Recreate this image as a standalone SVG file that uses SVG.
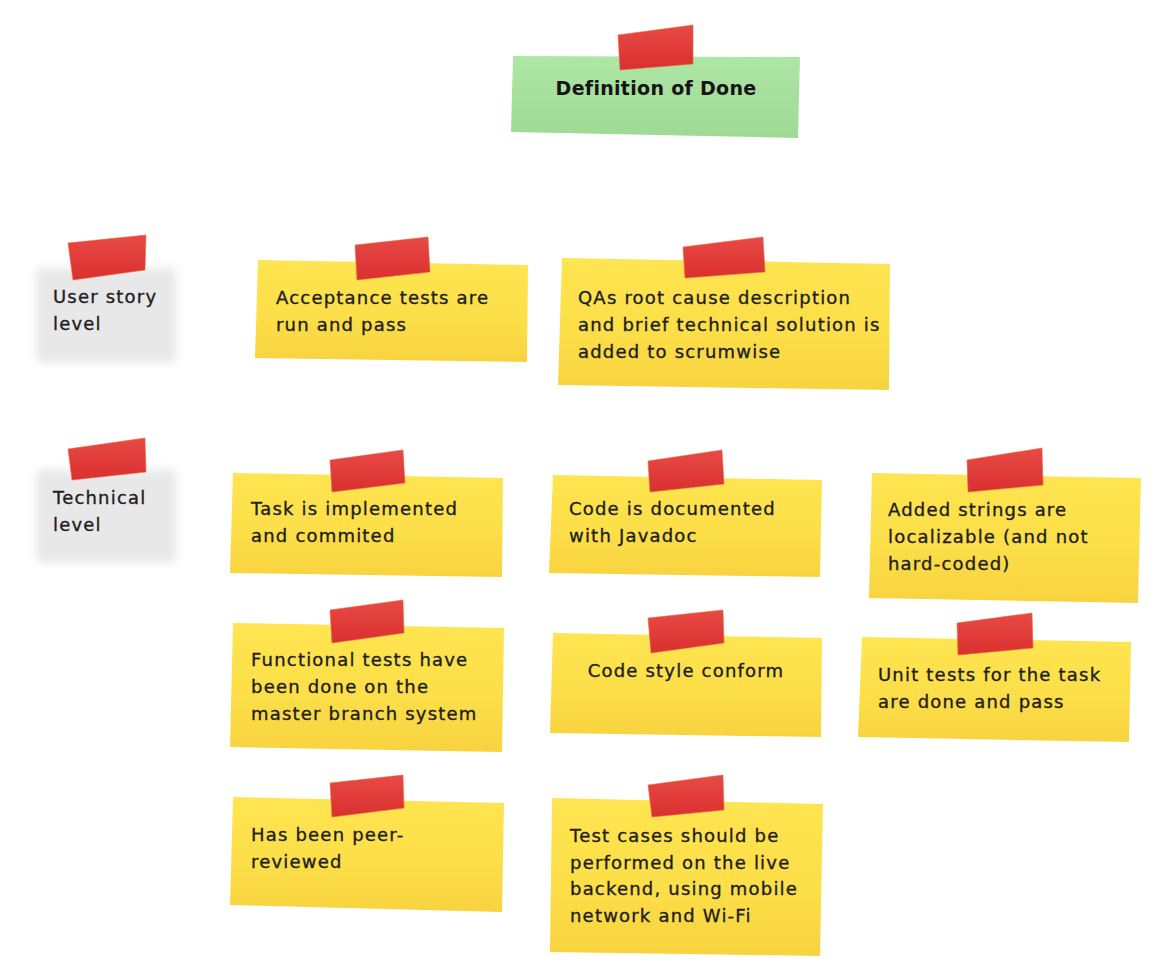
<svg xmlns="http://www.w3.org/2000/svg" width="1159" height="971" viewBox="0 0 1159 971">
  <defs>
    <linearGradient id="yellowPaper" x1="0" y1="0" x2="0" y2="1">
      <stop offset="0" stop-color="#FFE552"/>
      <stop offset="0.55" stop-color="#FCDF48"/>
      <stop offset="1" stop-color="#F8D340"/>
    </linearGradient>
    <linearGradient id="greenPaper" x1="0" y1="0" x2="0" y2="1">
      <stop offset="0" stop-color="#AEE6A5"/>
      <stop offset="1" stop-color="#9FDA95"/>
    </linearGradient>
    <linearGradient id="redTape" x1="0" y1="0" x2="0" y2="1">
      <stop offset="0" stop-color="#E84A46"/>
      <stop offset="1" stop-color="#D9302F"/>
    </linearGradient>
    <filter id="soft" x="-20%" y="-20%" width="140%" height="140%">
      <feGaussianBlur stdDeviation="5"/>
    </filter>
    <filter id="edge" x="-5%" y="-5%" width="110%" height="110%">
      <feGaussianBlur stdDeviation="0.6"/>
    </filter>
  </defs>
  <style>
    .note { fill: url(#yellowPaper); filter: url(#edge); }
    .title { fill: url(#greenPaper); filter: url(#edge); }
    .label-bg { fill: #E8E8E8; filter: url(#soft); }
    .tape { fill: url(#redTape); stroke: #E96A3A; stroke-width: 0.6; }
    .txt { font-family: "DejaVu Sans", "Liberation Sans", sans-serif; font-size: 18px; letter-spacing: 1.2px; fill: #1E1E24; stroke: #1E1E24; stroke-width: 0.35; }
    .head { font-family: "DejaVu Sans", "Liberation Sans", sans-serif; font-size: 19px; font-weight: bold; letter-spacing: 0.3px; fill: #151515; }
  </style>

  <rect width="1159" height="971" fill="#FFFFFF"/>

  <!-- heading -->
  <g id="definition-of-done">
    <polygon class="title" points="513,56 800,57 798,138 511,132"/>
    <polygon class="tape" points="618,35 693,25 693,64 620,70"/>
    <text class="head" x="656" y="95" text-anchor="middle">Definition of Done</text>
  </g>

  <!-- row labels -->
  <g id="user-story-level">
    <rect class="label-bg" x="36" y="268" width="140" height="94"/>
    <polygon class="tape" points="68,243 146,235 145,270 73,280"/>
    <text class="txt" x="53" y="303">User story</text>
    <text class="txt" x="53" y="330">level</text>
  </g>

  <g id="technical-level">
    <rect class="label-bg" x="36" y="470" width="140" height="92"/>
    <polygon class="tape" points="68,449 145,438 146,472 72,480"/>
    <text class="txt" x="53" y="504">Technical</text>
    <text class="txt" x="53" y="531">level</text>
  </g>

  <!-- user story level notes -->
  <g id="acceptance-tests">
    <polygon class="note" points="258,260 528,265 527,362 255,358"/>
    <polygon class="tape" points="355,245 428,237 430,272 357,280"/>
    <text class="txt" x="276" y="304">Acceptance tests are</text>
    <text class="txt" x="276" y="331">run and pass</text>
  </g>

  <g id="qa-root-cause">
    <polygon class="note" points="562,258 890,264 889,390 558,385"/>
    <polygon class="tape" points="683,247 763,237 765,272 685,278"/>
    <text class="txt" x="578" y="304">QAs root cause description</text>
    <text class="txt" x="578" y="331">and brief technical solution is</text>
    <text class="txt" x="578" y="358">added to scrumwise</text>
  </g>

  <!-- technical level notes -->
  <g id="task-implemented">
    <polygon class="note" points="233,473 503,478 502,577 230,573"/>
    <polygon class="tape" points="330,460 403,450 405,483 332,492"/>
    <text class="txt" x="251" y="515">Task is implemented</text>
    <text class="txt" x="251" y="542">and commited</text>
  </g>

  <g id="code-documented">
    <polygon class="note" points="553,475 822,480 820,577 549,573"/>
    <polygon class="tape" points="648,461 722,450 724,484 650,492"/>
    <text class="txt" x="569" y="515">Code is documented</text>
    <text class="txt" x="569" y="542">with Javadoc</text>
  </g>

  <g id="strings-localizable">
    <polygon class="note" points="872,473 1141,478 1138,603 869,598"/>
    <polygon class="tape" points="967,460 1042,448 1043,485 968,492"/>
    <text class="txt" x="888" y="516">Added strings are</text>
    <text class="txt" x="888" y="543">localizable (and not</text>
    <text class="txt" x="888" y="570">hard-coded)</text>
  </g>

  <g id="functional-tests">
    <polygon class="note" points="233,623 504,628 502,752 230,747"/>
    <polygon class="tape" points="330,610 403,600 404,633 332,643"/>
    <text class="txt" x="251" y="666">Functional tests have</text>
    <text class="txt" x="251" y="693">been done on the</text>
    <text class="txt" x="251" y="720">master branch system</text>
  </g>

  <g id="code-style">
    <polygon class="note" points="553,633 822,638 821,737 550,733"/>
    <polygon class="tape" points="648,618 723,610 724,643 651,653"/>
    <text class="txt" x="686" y="677" text-anchor="middle">Code style conform</text>
  </g>

  <g id="unit-tests">
    <polygon class="note" points="862,637 1131,642 1129,742 858,737"/>
    <polygon class="tape" points="957,623 1032,613 1033,648 958,655"/>
    <text class="txt" x="878" y="681">Unit tests for the task</text>
    <text class="txt" x="878" y="708">are done and pass</text>
  </g>

  <g id="peer-reviewed">
    <polygon class="note" points="233,797 504,803 502,912 230,905"/>
    <polygon class="tape" points="330,783 403,775 404,808 332,817"/>
    <text class="txt" x="251" y="841">Has been peer-</text>
    <text class="txt" x="251" y="868">reviewed</text>
  </g>

  <g id="test-cases-live">
    <polygon class="note" points="552,798 823,804 820,956 550,952"/>
    <polygon class="tape" points="648,785 723,775 724,810 652,817"/>
    <text class="txt" x="570" y="842">Test cases should be</text>
    <text class="txt" x="570" y="869">performed on the live</text>
    <text class="txt" x="570" y="895">backend, using mobile</text>
    <text class="txt" x="570" y="922">network and Wi-Fi</text>
  </g>
</svg>
